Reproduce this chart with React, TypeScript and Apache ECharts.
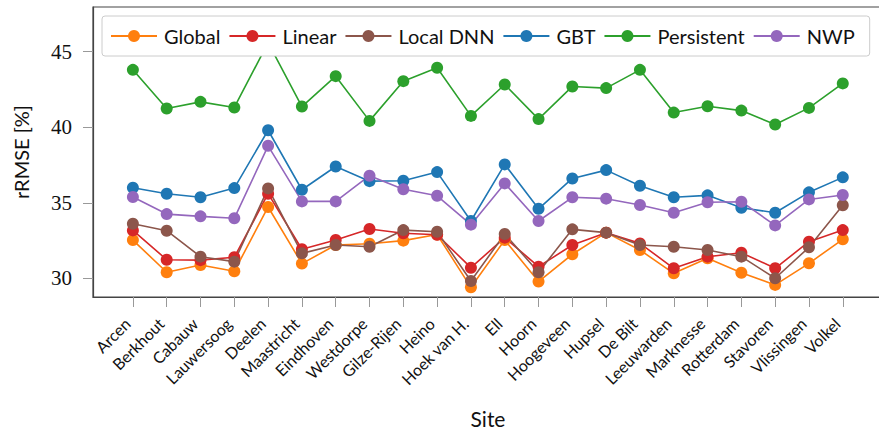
import React, { useEffect, useRef } from "react";
import * as echarts from "echarts";

const sites = ["Arcen","Berkhout","Cabauw","Lauwersoog","Deelen","Maastricht","Eindhoven","Westdorpe","Gilze-Rijen","Heino","Hoek van H.","Ell","Hoorn","Hoogeveen","Hupsel","De Bilt","Leeuwarden","Marknesse","Rotterdam","Stavoren","Vlissingen","Volkel"];

const globalVals = [32.53, 30.40, 30.88, 30.46, 34.72, 30.97, 32.20, 32.29, 32.49, 32.90, 29.40, 32.53, 29.78, 31.59, 33.02, 31.87, 30.33, 31.32, 30.37, 29.56, 30.99, 32.58];
const linearVals = [33.17, 31.23, 31.20, 31.39, 35.60, 31.92, 32.53, 33.26, 32.98, 32.88, 30.70, 32.69, 30.77, 32.20, 33.02, 32.31, 30.66, 31.43, 31.69, 30.66, 32.42, 33.19];
const localDnnVals = [33.61, 33.15, 31.43, 31.10, 35.95, 31.65, 32.20, 32.09, 33.19, 33.08, 29.82, 32.93, 30.40, 33.24, 33.02, 32.20, 32.09, 31.87, 31.43, 30.00, 32.05, 34.83];
const gbtVals = [35.99, 35.60, 35.36, 35.97, 39.80, 35.86, 37.40, 36.43, 36.46, 37.03, 33.79, 37.54, 34.60, 36.61, 37.16, 36.13, 35.36, 35.49, 34.67, 34.34, 35.69, 36.68];
const persistentVals = [43.80, 41.24, 41.68, 41.31, 45.60, 41.37, 43.38, 40.42, 43.05, 43.94, 40.75, 42.83, 40.54, 42.70, 42.59, 43.80, 40.97, 41.39, 41.10, 40.18, 41.28, 42.90];
const nwpVals = [35.38, 34.25, 34.10, 33.97, 38.77, 35.09, 35.09, 36.79, 35.89, 35.46, 33.55, 36.28, 33.79, 35.36, 35.27, 34.85, 34.34, 35.03, 35.07, 33.50, 35.22, 35.51];

const yTicks = [30, 35, 40, 45];

const seriesDefs = [
  { name: "Global", data: globalVals, color: "#ff7f0e" },
  { name: "Linear", data: linearVals, color: "#d62728" },
  { name: "Local DNN", data: localDnnVals, color: "#8c564b" },
  { name: "GBT", data: gbtVals, color: "#1f77b4" },
  { name: "Persistent", data: persistentVals, color: "#2ca02c" },
  { name: "NWP", data: nwpVals, color: "#9467bd" },
];

const SANS = "Lato, 'DejaVu Sans', sans-serif";
const SERIF = "'Liberation Serif', 'DejaVu Serif', serif";

export default function App() {
  const ref = useRef<HTMLDivElement>(null);
  useEffect(() => {
    if (!ref.current) return;
    const chart = echarts.init(ref.current, null, { renderer: "svg" });
    const xIdx = sites.map((_, i) => i);
    chart.setOption({
      animation: false,
      backgroundColor: "#fff",
      grid: {
        left: 93,
        top: 7,
        width: 790,
        height: 290,
        outerBoundsMode: "none",
        containLabel: false,
        show: true,
        borderColor: "#444",
        borderWidth: 1.2,
        backgroundColor: "transparent",
      },
      legend: {
        left: 102,
        top: 16,
        width: 760,
        padding: [10, 15, 10, 8],
        itemWidth: 46,
        itemHeight: 15,
        itemGap: 8,
        backgroundColor: "#fff",
        borderColor: "#ccc",
        borderWidth: 1,
        borderRadius: 3,
        textStyle: { fontFamily: SANS, fontSize: 20, lineHeight: 20, color: "#111", padding: [0, 0, 0, 2] },
        data: seriesDefs.map((s) => s.name),
      },
      xAxis: {
        type: "value",
        min: -1.18,
        max: 22.19,
        name: "Site",
        nameLocation: "middle",
        nameGap: 111,
        nameTextStyle: { fontFamily: SANS, fontSize: 21, color: "#111" },
        axisLine: { show: true, onZero: false, lineStyle: { color: "#444", width: 1.2 } },
        splitLine: { show: false },
        axisTick: {
          show: true,
          customValues: xIdx,
          length: 10,
          lineStyle: { color: "#999", width: 1 },
        },
        axisLabel: {
          show: true,
          customValues: xIdx,
          rotate: 45,
          margin: 18,
          fontFamily: SANS,
          fontSize: 16,
          color: "#111",
          padding: [0, 8, 0, 0],
          formatter: (v: number) => sites[Math.round(v)] ?? "",
        },
      },
      yAxis: {
        type: "value",
        min: 28.76,
        max: 47.96,
        name: "rRMSE [%]",
        nameLocation: "middle",
        nameGap: 62,
        nameTextStyle: { fontFamily: SANS, fontSize: 20, color: "#111" },
        axisLine: { show: true, onZero: false, lineStyle: { color: "#444", width: 1.2 } },
        splitLine: { show: false },
        axisTick: {
          show: true,
          customValues: yTicks,
          length: 10,
          lineStyle: { color: "#999", width: 1 },
        },
        axisLabel: {
          show: true,
          customValues: yTicks,
          margin: 21,
          fontFamily: SERIF,
          fontSize: 21,
          color: "#111",
        },
      },
      series: seriesDefs.map((s) => ({
        name: s.name,
        type: "line",
        data: s.data.map((v, i) => [i, v]),
        symbol: "circle",
        symbolSize: 12,
        showSymbol: true,
        lineStyle: { color: s.color, width: 1.6 },
        itemStyle: { color: s.color },
        emphasis: { disabled: true },
      })),
    });
    return () => chart.dispose();
  }, []);
  return (
    <div
      ref={ref}
      style={{ position: "fixed", left: 0, top: 0, width: 879, height: 431 }}
    />
  );
}
